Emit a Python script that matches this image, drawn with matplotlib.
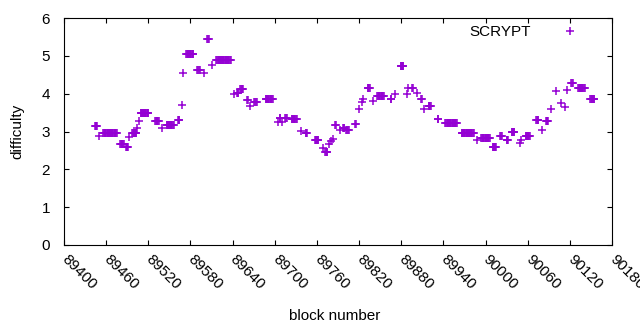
import numpy as np
import matplotlib
matplotlib.use('Agg')
from matplotlib import pyplot as plt

# runs of consecutive blocks that share one difficulty value (first block, last block, difficulty)
run_first = [89444, 89450, 89456, 89480, 89488, 89493, 89497, 89504, 89507, 89509,
             89530, 89539, 89546, 89562, 89568, 89569, 89574, 89590, 89599, 89604,
             89611, 89617, 89642, 89646, 89651, 89661, 89665, 89671, 89687, 89705,
             89707, 89710, 89715, 89724, 89737, 89744, 89757, 89769, 89772, 89777,
             89780, 89783, 89786, 89793, 89797, 89802, 89814, 89820, 89824, 89825,
             89832, 89840, 89846, 89865, 89871, 89879, 89888, 89890, 89896, 89903,
             89908, 89912, 89919, 89932, 89943, 89966, 89988, 89994, 90010, 90021,
             90030, 90037, 90049, 90051, 90057, 90072, 90080, 90086, 90093, 90101,
             90108, 90113, 90116, 90122, 90132, 90149]
run_last = [89447, 89450, 89475, 89485, 89491, 89493, 89503, 89504, 89507, 89520,
            89535, 89539, 89556, 89564, 89568, 89569, 89584, 89593, 89599, 89606,
            89611, 89637, 89642, 89648, 89655, 89662, 89665, 89674, 89697, 89705,
            89708, 89710, 89717, 89731, 89737, 89746, 89762, 89769, 89775, 89777,
            89780, 89783, 89787, 89793, 89799, 89805, 89815, 89820, 89824, 89825,
            89835, 89840, 89855, 89866, 89871, 89883, 89888, 89890, 89897, 89903,
            89909, 89912, 89922, 89933, 89959, 89983, 89988, 90006, 90015, 90023,
            90032, 90041, 90049, 90051, 90063, 90075, 90080, 90089, 90093, 90101,
            90108, 90113, 90116, 90124, 90141, 90155]
run_diff = [3.15, 2.88, 2.97, 2.66, 2.59, 2.85, 2.97, 3.09, 3.28, 3.48,
            3.28, 3.09, 3.16, 3.30, 3.70, 4.55, 5.05, 4.63, 4.55, 5.45,
            4.76, 4.89, 3.99, 4.03, 4.13, 3.83, 3.67, 3.78, 3.86, 3.25,
            3.36, 3.25, 3.36, 3.33, 3.01, 2.96, 2.78, 2.56, 2.45, 2.67,
            2.75, 2.80, 3.17, 3.04, 3.10, 3.05, 3.20, 3.60, 3.78, 3.86,
            4.14, 3.81, 3.93, 3.85, 3.99, 4.73, 3.99, 4.15, 4.16, 4.01,
            3.86, 3.60, 3.67, 3.32, 3.22, 2.95, 2.78, 2.84, 2.60, 2.88,
            2.78, 2.99, 2.70, 2.78, 2.87, 3.30, 3.04, 3.28, 3.60, 4.07,
            3.75, 3.65, 4.10, 4.28, 4.16, 3.87]

xticks = np.arange(89400, 90181, 60)
yticks = np.arange(0, 7, 1)

blocks = np.concatenate([np.arange(a, b + 1) for a, b in zip(run_first, run_last)])
diffs = np.concatenate([np.full(b - a + 1, d) for a, b, d in zip(run_first, run_last, run_diff)])

plt.rcParams['font.family'] = ['Liberation Sans', 'DejaVu Sans']
plt.rcParams['font.size'] = 11

fig = plt.figure(figsize=(6.4, 3.3), dpi=100)
ax = fig.add_axes([64 / 640, 1 - 245 / 330, 548 / 640, 227 / 330])

ax.plot(blocks, diffs, '+', color='#9400D3', ms=5.5, mew=1.1, ls='none',
        antialiased=False, label='SCRYPT')

ax.set_xlim(89400, 90180)
ax.set_ylim(0, 6)
ax.set_xticks(xticks)
ax.set_yticks(yticks)
ax.set_xticklabels([str(t) for t in xticks], rotation=-45, ha='left', va='center',
                   rotation_mode='anchor')
ax.tick_params(direction='in', length=3.6, width=0.8, top=True, right=True, color='black')
ax.tick_params(axis='x', pad=9)
ax.tick_params(axis='y', pad=10)
for sp in ax.spines.values():
    sp.set_linewidth(0.8)

fig.text(335 / 640, 1 - 316 / 330, 'block number', ha='center', va='center')
fig.text(17 / 640, 1 - 131 / 330, 'difficulty', ha='center', va='center', rotation=90)

# legend: text first, sample marker right of it
ax.legend(loc='center right', bbox_to_anchor=(0.951, (245 - 32) / 227), frameon=False,
          markerfirst=False, handlelength=2, handletextpad=1.55, borderpad=0, borderaxespad=0)

fig.savefig('out.png', dpi=100)
